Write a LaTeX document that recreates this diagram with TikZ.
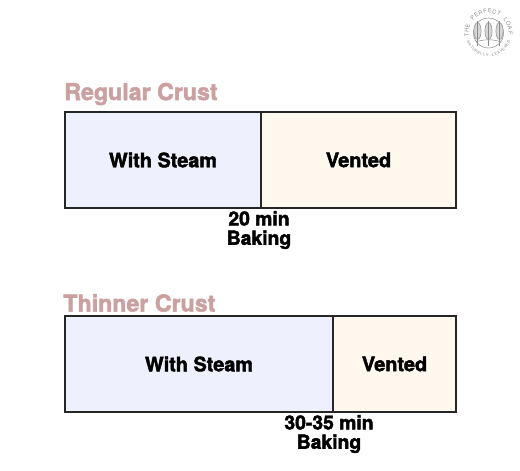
\documentclass[tikz,border=0pt]{standalone}
\usepackage{fontspec}
\setmainfont{TeX Gyre Heros}[BoldFeatures={FakeBold=2.2}]
\usepackage{xcolor}
\usepackage{tikz}
\usetikzlibrary{positioning}
\definecolor{ink}{RGB}{38, 38, 38}
\definecolor{rosy}{RGB}{203, 160, 160}
\definecolor{steamfill}{RGB}{239, 240, 253}
\definecolor{ventfill}{RGB}{255, 248, 238}
\definecolor{logogray}{RGB}{140, 140, 140}

\begin{document}
\begin{tikzpicture}[
  x=0.02cm, y=-0.02cm,
  phase/.style={draw=ink, line width=1.5pt, minimum height=1.92cm, inner sep=0pt,
                font=\bfseries\fontsize{11.3}{13}\selectfont, text=black},
  steam/.style={phase, fill=steamfill},
  vent/.style={phase, fill=ventfill},
  heading/.style={font=\bfseries\fontsize{13.2}{16}\selectfont, text=rosy, anchor=west, inner sep=0pt},
  timing/.style={font=\bfseries\fontsize{11}{12}\selectfont, text=black, align=center, inner sep=0pt},
  logoline/.style={draw=logogray, line width=0.3pt},
  logoupper/.style={font=\fontsize{3.2}{4}\selectfont, text=logogray, inner sep=0pt},
  logolower/.style={font=\fontsize{2.2}{3}\selectfont, text=logogray, inner sep=0pt},
]
  \useasboundingbox (0,0) rectangle (520,470);

  % logo
  \draw[logoline] (488.5,33) circle (15);
  \foreach \dx in {-11,0,11}{
    \draw[logoline, fill=logogray!35] (488.5+\dx,31) ellipse (3.6 and 8.5);
    \draw[logoline] (488.5+\dx,21) -- (488.5+\dx,46);
  }
  \draw[logoline] (476,42) .. controls (484,39) and (493,39) .. (501,42);
  \foreach \ch/\i in {T/0, H/1, E/2, P/4, E/5, R/6, F/7, E/8, C/9, T/10, L/12, O/13, A/14, F/15}{
    \pgfmathsetmacro{\ang}{186 - \i*12.4}
    \pgfmathsetmacro{\rot}{\ang - 90}
    \node[logoupper, rotate=\rot] (up\i) at ({488.5+22*cos(\ang)}, {33-22*sin(\ang)}) {\ch};
  }
  \foreach \ch/\i in {N/0, A/1, T/2, U/3, R/4, A/5, L/6, L/7, Y/8, L/10, E/11, A/12, V/13, E/14, N/15, E/16, D/17}{
    \pgfmathsetmacro{\ang}{205 + \i*7.7}
    \pgfmathsetmacro{\rot}{\ang + 90}
    \node[logolower, rotate=\rot] (lo\i) at ({488.5+22*cos(\ang)}, {33-22*sin(\ang)}) {\ch};
  }

  % regular crust
  \node[heading] (regtitle) at (64,94) {Regular Crust};
  \node[steam, minimum width=3.92cm] (regsteam) at (163,160) {\raisebox{-0.6pt}{With Steam}};
  \node[vent, minimum width=3.90cm] (regvent) at (358.5,160) {\raisebox{-0.6pt}{Vented}};
  \node[timing] (regtime) at (259,230) {20 min\\[-1pt]Baking};

  % thinner crust
  \node[heading] (thintitle) at (63,303) {Thinner Crust};
  \node[steam, minimum width=5.36cm] (thinsteam) at (199,364) {\raisebox{-0.6pt}{With Steam}};
  \node[vent, minimum width=2.46cm] (thinvent) at (394.5,364) {\raisebox{-0.6pt}{Vented}};
  \node[timing] (thintime) at (329,434) {30-35 min\\[-1pt]Baking};
\end{tikzpicture}
\end{document}
